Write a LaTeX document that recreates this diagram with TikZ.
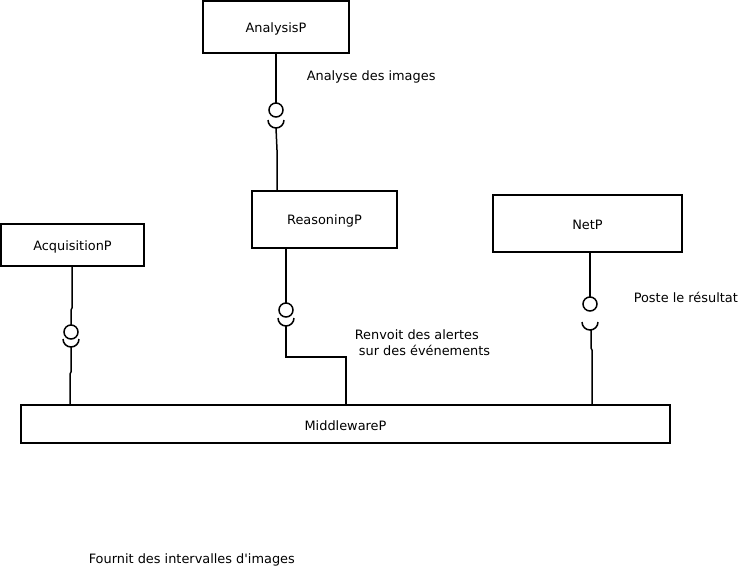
\documentclass[tikz,border=0pt]{standalone}
\usepackage{fontspec}
\newfontfamily\dvfont{DejaVu Sans}
\newcommand{\lowtxt}[1]{\raisebox{-1.5pt}[\height][\depth]{#1}}
\begin{document}
\begin{tikzpicture}[x=1pt,y=-1pt,line width=1.5pt,
  comp/.style={draw,inner sep=0pt,font=\dvfont\fontsize{12.9}{15}\selectfont},
  lbl/.style={anchor=west,inner sep=0pt,font=\dvfont\fontsize{12.9}{16}\selectfont,align=left},
  wire/.style={line width=1.5pt}]
\useasboundingbox (0,0) rectangle (740,566);
% components
\node[comp,minimum width=146pt,minimum height=52pt] (analysis) at (276,27) {\lowtxt{AnalysisP}};
\node[comp,minimum width=145pt,minimum height=57pt] (reasoning) at (324.5,219.5) {\lowtxt{ReasoningP}};
\node[comp,minimum width=143pt,minimum height=42pt] (acquisition) at (72.5,245) {\lowtxt{AcquisitionP}};
\node[comp,minimum width=189pt,minimum height=57pt] (net) at (587.5,223.5) {\lowtxt{NetP}};
\node[comp,minimum width=649pt,minimum height=38pt] (middleware) at (345.5,424) {\lowtxt{MiddlewareP}};
% labels
\node[lbl] (l1) at (306,76.5) {Analyse des images};
\node[lbl] (l2) at (633,297) {Poste le résultat};
\node[lbl] (l3) at (354,343) {Renvoit des alertes\\\ sur des événements};
\node[lbl] (l4) at (88,560) {Fournit des intervalles d'images};
% Analysis -> Reasoning
\coordinate (a1) at (276,103);
\coordinate (a2) at (268,120);
\coordinate (a3) at (276,128);
\draw[wire] (analysis.south -| a1) -- (a1);
\draw[wire] (276,110) circle[radius=7];
\draw[wire] (a2) arc[start angle=180,end angle=0,radius=8];
\draw[wire] (a3) -- (277,150) -- (reasoning.north -| 277,0);
% Acquisition -> Middleware
\coordinate (b1) at (71,325);
\coordinate (b2) at (63,339);
\coordinate (b3) at (71,347);
\draw[wire] (acquisition.south -| 72,0) -- (72,308) -- (71,310) -- (b1);
\draw[wire] (71,332) circle[radius=7];
\draw[wire] (b2) arc[start angle=180,end angle=0,radius=8];
\draw[wire] (b3) -- (71,372) -- (70,374) -- (middleware.north -| 70,0);
% Reasoning -> Middleware
\coordinate (c1) at (286,303);
\coordinate (c2) at (278,318);
\coordinate (c3) at (286,326);
\draw[wire] (reasoning.south -| c1) -- (c1);
\draw[wire] (286,310) circle[radius=7];
\draw[wire] (c2) arc[start angle=180,end angle=0,radius=8];
\draw[wire] (c3) -- (286,357) -- (346,357) -- (middleware.north -| 346,0);
% Net -> Middleware
\coordinate (d1) at (590,297);
\coordinate (d2) at (582,322);
\coordinate (d3) at (590,330);
\draw[wire] (net.south -| d1) -- (d1);
\draw[wire] (590,304) circle[radius=7];
\draw[wire] (d2) arc[start angle=180,end angle=0,radius=8];
\draw[wire] (d3) -- (591,330) -- (591,348) -- (592,350) -- (middleware.north -| 592,0);
\end{tikzpicture}
\end{document}
